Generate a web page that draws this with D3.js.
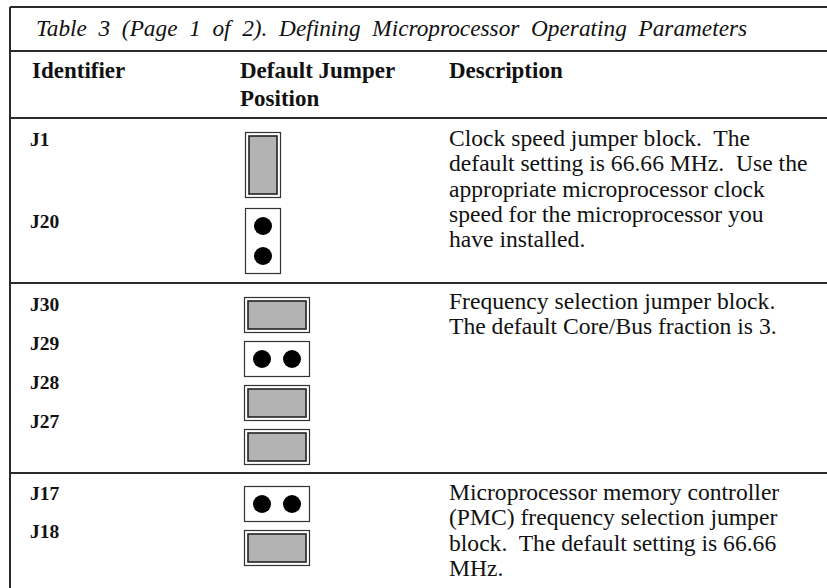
<!DOCTYPE html>
<html>
<head>
<meta charset="utf-8">
<script src="https://cdn.jsdelivr.net/npm/d3@7"></script>
<style>
  html, body { margin: 0; padding: 0; background: #fff; }
  svg { display: block; }
  text { white-space: pre; fill: #111; }
</style>
</head>
<body>
<div id="chart"></div>
<script>
// ---------------- data ----------------
const tableTitle = "Table  3  (Page  1  of  2).  Defining  Microprocessor  Operating  Parameters";
const headerIdentifier = ["Identifier"];
const headerPosition = ["Default Jumper", "Position"];
const headerDescription = ["Description"];

const groupIdentifiers = [
  ["J1", "J20"],
  ["J30", "J29", "J28", "J27"],
  ["J17", "J18"]
];
// jumper state per identifier: "on" = cap installed (grey block), "off" = open pins
const groupJumperStates = [
  ["on", "off"],
  ["on", "off", "on", "on"],
  ["off", "on"]
];
const groupOrientation = ["vertical", "horizontal", "horizontal"];
const groupDescriptions = [
  ["Clock speed jumper block.  The", "default setting is 66.66 MHz.  Use the", "appropriate microprocessor clock", "speed for the microprocessor you", "have installed."],
  ["Frequency selection jumper block.", "The default Core/Bus fraction is 3."],
  ["Microprocessor memory controller", "(PMC) frequency selection jumper", "block.  The default setting is 66.66", "MHz."]
];

// ---------------- layout ----------------
const W = 827, H = 588;
const left = 10;
const lineColor = "#2b2b2b";
const serif = "'Liberation Serif', 'Times New Roman', serif";

// y of horizontal rules
const rules = [7, 51, 118, 283, 473];

const svg = d3.select("#chart").append("svg")
  .attr("width", W).attr("height", H);

svg.selectAll("line.rule").data(rules).join("line")
  .attr("class", "rule")
  .attr("x1", left).attr("x2", W)
  .attr("y1", d => d).attr("y2", d => d)
  .attr("stroke", lineColor).attr("stroke-width", 2);
svg.append("line")
  .attr("x1", left).attr("x2", left).attr("y1", rules[0]).attr("y2", H)
  .attr("stroke", lineColor).attr("stroke-width", 2);

// title
svg.append("text")
  .attr("x", 36).attr("y", 36)
  .attr("font-family", serif).attr("font-style", "italic").attr("font-size", 23.3)
  .text(tableTitle);

// header
const colX = { id: 32, pos: 240, desc: 449 };
const headerG = svg.append("g")
  .attr("font-family", serif).attr("font-weight", "bold").attr("font-size", 23);
const headerY = d3.scaleLinear().domain([0, 1]).range([78, 106]);
headerG.selectAll("text.hid").data(headerIdentifier).join("text")
  .attr("class", "hid").attr("x", colX.id).attr("y", (d, i) => headerY(i)).text(d => d);
headerG.selectAll("text.hpos").data(headerPosition).join("text")
  .attr("class", "hpos").attr("x", colX.pos).attr("y", (d, i) => headerY(i)).text(d => d);
headerG.selectAll("text.hdesc").data(headerDescription).join("text")
  .attr("class", "hdesc").attr("x", colX.desc).attr("y", (d, i) => headerY(i)).text(d => d);

// per-group positions
const labelStart = [146, 311, 500];
const labelPitch = [82, 39, 38];
const blockStart = [132, 297, 486];
const blockPitch = [76, 44, 44];
const descStart = [146, 309, 500];
const descPitch = 25.3;

groupIdentifiers.forEach((ids, gi) => {
  const g = svg.append("g");
  const yLabel = d3.scaleLinear().domain([0, 1]).range([labelStart[gi], labelStart[gi] + labelPitch[gi]]);
  const yBlock = d3.scaleLinear().domain([0, 1]).range([blockStart[gi], blockStart[gi] + blockPitch[gi]]);
  const yDesc = d3.scaleLinear().domain([0, 1]).range([descStart[gi], descStart[gi] + descPitch]);

  g.selectAll("text.id").data(ids).join("text")
    .attr("class", "id")
    .attr("x", 30).attr("y", (d, i) => yLabel(i))
    .attr("font-family", serif).attr("font-weight", "bold").attr("font-size", 19.5)
    .text(d => d);

  g.selectAll("text.desc").data(groupDescriptions[gi]).join("text")
    .attr("class", "desc")
    .attr("x", colX.desc).attr("y", (d, i) => yDesc(i))
    .attr("font-family", serif).attr("font-size", 23.6)
    .text(d => d);

  const vertical = groupOrientation[gi] === "vertical";
  const bw = vertical ? 36 : 66, bh = vertical ? 66 : 36;
  const bx = vertical ? 245 : 244;

  const blocks = g.selectAll("g.block").data(groupJumperStates[gi]).join("g")
    .attr("class", "block")
    .attr("transform", (d, i) => `translate(${bx},${yBlock(i)})`);

  blocks.each(function(state) {
    const b = d3.select(this);
    b.append("rect")
      .attr("x", 0.5).attr("y", 0.5).attr("width", bw - 1).attr("height", bh - 1)
      .attr("fill", "#fff").attr("stroke", "#333").attr("stroke-width", 1.2);
    if (state === "on") {
      b.append("rect")
        .attr("x", 4).attr("y", 4).attr("width", bw - 8).attr("height", bh - 8)
        .attr("fill", "#b3b3b3").attr("stroke", "#222").attr("stroke-width", 1.6);
    } else {
      const pins = vertical ? [[bw / 2, bh / 2 - 15], [bw / 2, bh / 2 + 15]]
                            : [[bw / 2 - 15, bh / 2], [bw / 2 + 15, bh / 2]];
      b.selectAll("circle").data(pins).join("circle")
        .attr("cx", p => p[0]).attr("cy", p => p[1]).attr("r", 9)
        .attr("fill", "#000");
    }
  });
});
</script>
</body>
</html>
